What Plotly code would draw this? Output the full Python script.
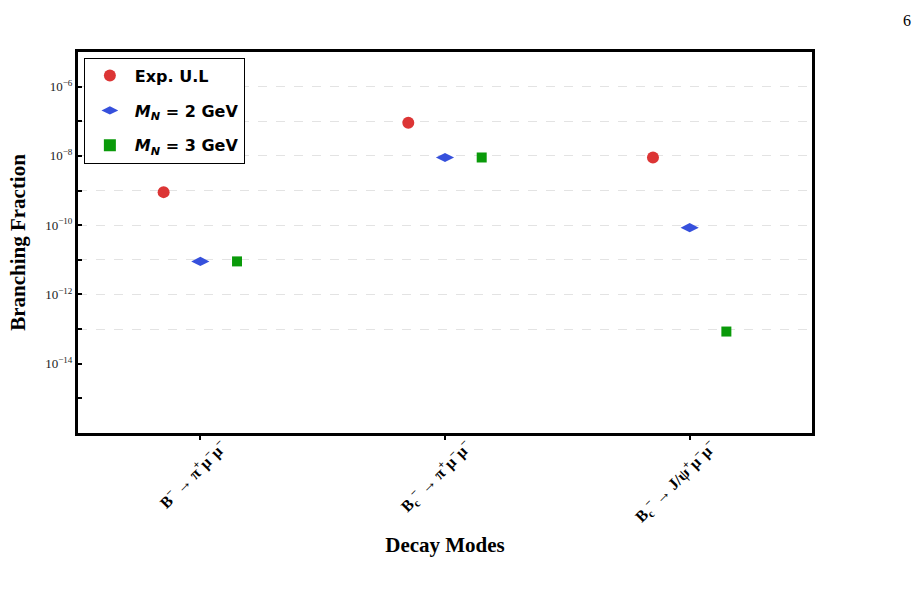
import plotly.graph_objects as go

categories = ["B<sup>−</sup> → π<sup>+</sup>μ<sup>−</sup>μ<sup>−</sup>",
              "B<sub>c</sub><sup>−</sup> → π<sup>+</sup>μ<sup>−</sup>μ<sup>−</sup>",
              "B<sub>c</sub><sup>−</sup> → J/ψ<sup>+</sup>μ<sup>−</sup>μ<sup>−</sup>"]
exp_ul = [9e-10, 9e-8, 9e-9]
mn2 = [9e-12, 9e-9, 8.5e-11]
mn3 = [9e-12, 9e-9, 8.5e-14]
series_names = ["Exp. U.L", "<i>M<sub>N</sub></i> = 2 GeV", "<i>M<sub>N</sub></i> = 3 GeV"]
ytick_exps = [-6, -7, -8, -9, -10, -11, -12, -13, -14, -15]
grid_exps = [-6, -7, -8, -9, -10, -11, -12, -13]

offsets = [-0.15, 0.0, 0.15]
colors = ["#dc3535", "#3650dc", "#0a9a0a"]
symbols = ["circle", "diamond-wide", "square"]
sizes = [12, 13, 10]

fig = go.Figure()
for k, (vals, name, off, c, s, sz) in enumerate(zip([exp_ul, mn2, mn3], series_names, offsets, colors, symbols, sizes)):
    fig.add_trace(go.Scatter(
        x=[i + off for i in range(len(categories))], y=vals, mode="markers", name=name,
        legendgroup="g%d" % k,
        marker=dict(color=c, symbol=s, size=sz, line=dict(width=0)),
        yaxis="y"))

tickvals = [10.0 ** e for e in ytick_exps]
ticktext = [("10<sup>−%d</sup>" % -e) if e % 2 == 0 else "" for e in ytick_exps]

fig.update_layout(
    width=922, height=590,
    margin=dict(l=78, r=110, t=52, b=157),
    paper_bgcolor="white", plot_bgcolor="white",
    showlegend=True,
    legend=dict(x=0.008, y=0.985, xanchor="left", yanchor="top",
                bgcolor="white", bordercolor="black", borderwidth=1,
                font=dict(family="DejaVu Sans", size=16, color="black", weight="bold"),
                itemsizing="constant", tracegroupgap=11,
                itemwidth=40),
    xaxis=dict(range=[-0.5, 2.5], tickmode="array", tickvals=[0, 1, 2], ticktext=categories,
               tickangle=-45, tickfont=dict(family="Liberation Serif", size=16, color="black", weight="bold"),
               ticklabelshift=22, ticklabelstandoff=-9,
               showline=True, linecolor="black", linewidth=3, mirror=True,
               ticks="outside", ticklen=4, tickwidth=2, tickcolor="black",
               showgrid=False, zeroline=False,
               title=dict(text="Decay Modes", standoff=12,
                          font=dict(family="Liberation Serif", size=21, color="black", weight="bold"))),
    yaxis2=dict(type="log", range=[-16, -5], overlaying="y", side="left", anchor="x",
                tickmode="array", tickvals=[10.0 ** e for e in grid_exps], showticklabels=False, ticks="",
                showgrid=True, gridcolor="#e3e3e3", griddash="dash", gridwidth=1,
                showline=False, zeroline=False),
    yaxis=dict(type="log", range=[-16, -5],
               tickmode="array", tickvals=tickvals, ticktext=ticktext,
               ticks="inside", ticklen=4, tickwidth=2, tickcolor="black",
               tickfont=dict(family="Liberation Serif", size=13, color="#222"),
               showgrid=False, showline=True, linecolor="black", linewidth=3, mirror=True, zeroline=False,
               title=dict(text="Branching Fraction", standoff=14,
                          font=dict(family="Liberation Serif", size=21, color="black", weight="bold"))),
    annotations=[dict(text="6", xref="paper", yref="paper", x=1.13, y=1.083,
                      xanchor="center", yanchor="middle", showarrow=False,
                      font=dict(family="Liberation Serif", size=16, color="black"))],
)
fig.add_trace(go.Scatter(x=[None], y=[None], yaxis="y2", showlegend=False, hoverinfo="skip"))

fig.write_html("out.html")
